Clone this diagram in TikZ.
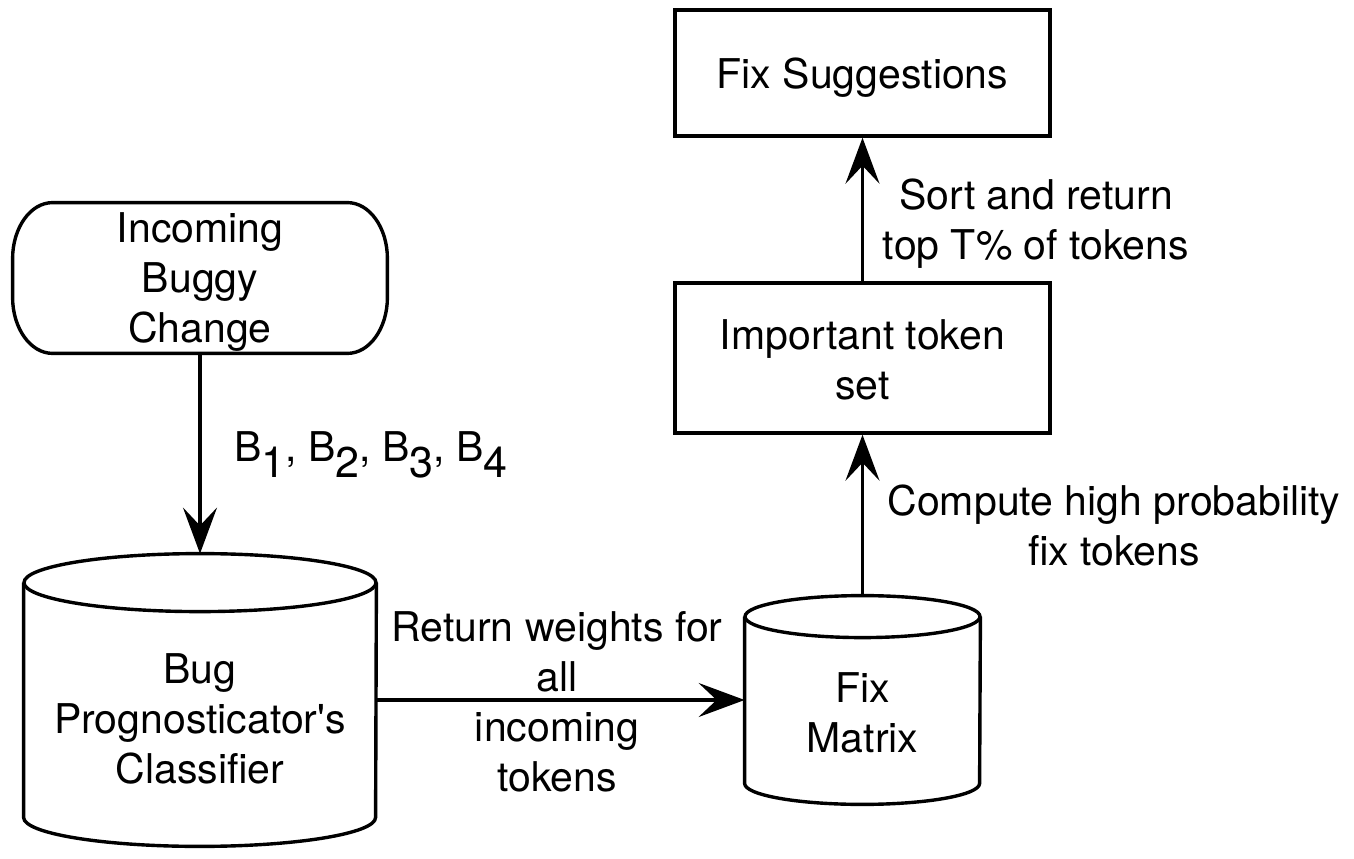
\documentclass[tikz,border=0pt]{standalone}
\usepackage{fontspec}
\setmainfont{TeX Gyre Heros}
\usetikzlibrary{arrows.meta}
\tikzset{
  lw/.style={line width=1.7pt},
  boxnode/.style={draw, lw, inner sep=0pt},
  holder/.style={inner sep=0pt},
  txt/.style={inner sep=0pt, align=center},
  arr/.style={lw, -{Stealth[length=23pt,width=17pt,inset=9pt]}}
}
\newcommand\subdig[1]{\raisebox{-8pt}{\fontsize{21.5pt}{25pt}\selectfont #1}}
\begin{document}
\begin{tikzpicture}[x=0.5pt,y=0.5pt,font=\fontsize{20.5pt}{25pt}\selectfont]
\useasboundingbox (0,0) rectangle (1354,858);
% incoming buggy change (terminator shape)
\node[holder, minimum width=187pt, minimum height=75pt] (inc) at (200,580) {};
\draw[lw] ([xshift=20pt]inc.north west) -- ([xshift=-20pt]inc.north east)
  arc[start angle=90, end angle=0, x radius=20pt, y radius=28pt]
  -- ([yshift=28pt]inc.south east)
  arc[start angle=0, end angle=-90, x radius=20pt, y radius=28pt]
  -- ([xshift=20pt]inc.south west)
  arc[start angle=270, end angle=180, x radius=20pt, y radius=28pt]
  -- ([yshift=-28pt]inc.north west)
  arc[start angle=180, end angle=90, x radius=20pt, y radius=28pt] -- cycle;
\node[txt] (inctxt) at (200,576) {Incoming\\Buggy\\Change};
% bug cylinder
\node[holder, minimum width=176pt, minimum height=146pt] (bug) at (200,158) {};
\draw[lw] ([yshift=-14.5pt]bug.north west) -- ([yshift=14.5pt]bug.south west)
  arc[start angle=180, end angle=360, x radius=88pt, y radius=14.5pt]
  -- ([yshift=-14.5pt]bug.north east);
\draw[lw] ([yshift=-14.5pt]bug.north) ellipse[x radius=88pt, y radius=14.5pt];
\node[txt] (bugtxt) at (200,139) {Bug\\Prognosticator\textquotesingle s\\Classifier};
% fix matrix cylinder
\node[holder, minimum width=117.5pt, minimum height=104pt] (fixm) at (862.5,158) {};
\draw[lw] ([yshift=-10.5pt]fixm.north west) -- ([yshift=10.5pt]fixm.south west)
  arc[start angle=180, end angle=360, x radius=58.75pt, y radius=10.5pt]
  -- ([yshift=-10.5pt]fixm.north east);
\draw[lw] ([yshift=-10.5pt]fixm.north) ellipse[x radius=58.75pt, y radius=10.5pt];
\node[txt] (fixtxt) at (862.5,145) {Fix\\Matrix};
% boxes
\node[boxnode, minimum width=187.5pt, minimum height=75pt] (imp) at (862.5,500) {};
\node[txt] (imptxt) at (862.5,498) {Important token\\set};
\node[boxnode, minimum width=187.5pt, minimum height=63pt] (sug) at (862.5,785) {};
\node[txt] (sugtxt) at (862.5,780) {Fix Suggestions};
% connectors
\draw[arr] (inc.south) -- (bug.north);
\draw[arr] (bug.east) -- (fixm.west);
\draw[arr] (fixm.north) -- (imp.south);
\draw[arr] (imp.north) -- (sug.south);
% labels
\node[txt, anchor=base west] (blab) at (234,397) {B\subdig{1}, B\subdig{2}, B\subdig{3}, B\subdig{4}};
\node[txt] (retlab) at (557,156) {Return weights for\\all\\incoming\\tokens};
\node[txt] (complab) at (1114,333) {Compute high probability\\fix tokens};
\node[txt] (sortlab) at (1036,634) {Sort and return\\top T\% of tokens};
\end{tikzpicture}
\end{document}
